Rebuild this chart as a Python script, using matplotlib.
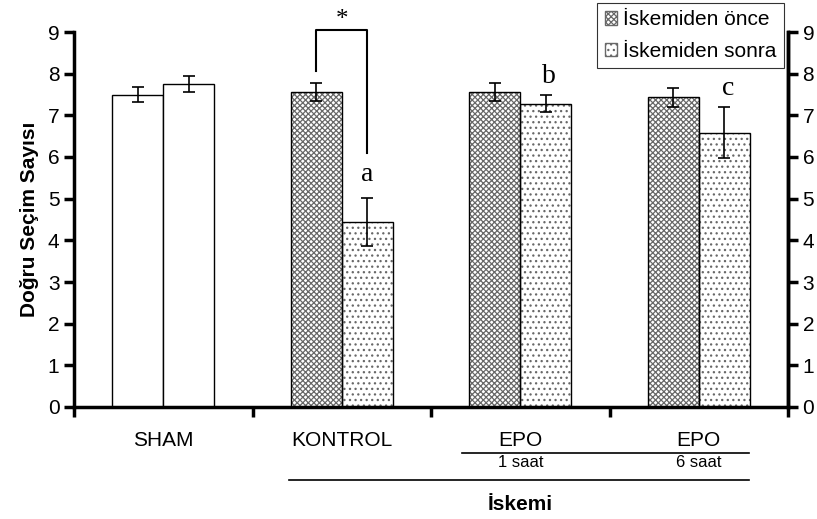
import numpy as np
import matplotlib
matplotlib.use('Agg')
import matplotlib.pyplot as plt
from matplotlib.patches import Patch

# data
groups = ['SHAM', 'KONTROL', 'EPO', 'EPO']
sublabels = ['', '', '1 saat', '6 saat']
before = [7.50, 7.56, 7.56, 7.43]
before_err = [0.19, 0.22, 0.22, 0.22]
after = [7.75, 4.44, 7.28, 6.58]
after_err = [0.20, 0.58, 0.21, 0.61]
sig_letters = ['', 'a', 'b', 'c']
legend_labels = ['İskemiden önce', 'İskemiden sonra']

plt.rcParams['font.family'] = ['Liberation Sans', 'DejaVu Sans']
plt.rcParams['hatch.linewidth'] = 0.9

fig = plt.figure(figsize=(8.17, 5.19), dpi=100)
ax = fig.add_axes([74/817, 1-407/519, 714/817, 375/519])

x = np.arange(len(groups)) + 0.5
w = 0.286
hatch_before = 'xxxxxx'
hatch_after = '...'
hatch_col = '#686868'

for i in range(len(groups)):
    x1 = x[i] - w/2
    x2 = x[i] + w/2
    if i == 0:
        ax.bar(x1, before[i], w, color='white', edgecolor='black', linewidth=1)
        ax.bar(x2, after[i], w, color='white', edgecolor='black', linewidth=1)
    else:
        # hatch drawn in grey, outline on top in black
        ax.bar(x1, before[i], w, color='white', edgecolor=hatch_col, hatch=hatch_before, linewidth=0)
        ax.bar(x2, after[i], w, color='white', edgecolor=hatch_col, hatch=hatch_after, linewidth=0)
        ax.bar(x1, before[i], w, fill=False, edgecolor='black', linewidth=1)
        ax.bar(x2, after[i], w, fill=False, edgecolor='black', linewidth=1)
    ax.errorbar([x1, x2], [before[i], after[i]], yerr=[before_err[i], after_err[i]],
                fmt='none', ecolor='black', elinewidth=1.2, capsize=4, capthick=1.2)

# significance letters
for i, s in enumerate(sig_letters):
    if s:
        top = after[i] + after_err[i]
        ax.text(x[i] + w/2 + (0.0 if i == 1 else 0.02), top + 0.55 if i == 1 else top + 0.45, s,
                ha='center', va='center', fontsize=20, family='Liberation Serif')

# bracket with asterisk
bx1 = x[1] - w/2
bx2 = x[1] + w/2
ax.plot([bx1, bx1, bx2, bx2], [8.06, 9.06, 9.06, 6.1], color='black', lw=1.5, clip_on=False)
ax.text(x[1], 9.3, '*', ha='center', va='center', fontsize=18, family='Liberation Serif')

ax.set_xlim(0, 4)
ax.set_ylim(0, 9)
ax.set_yticks(range(10))
ax.set_xticks(range(5))
ax.set_xticklabels([])
ax.spines['top'].set_visible(False)
for s in ['left', 'bottom', 'right']:
    ax.spines[s].set_linewidth(2.5)
ax.tick_params(axis='both', width=2.5, length=7, labelsize=15, direction='out')

ax2 = ax.twinx()
ax2.set_ylim(0, 9)
ax2.set_yticks(range(10))
ax2.spines['top'].set_visible(False)
ax2.spines['right'].set_linewidth(2.5)
ax2.tick_params(axis='y', width=2.5, length=7, labelsize=15, direction='out')

ax.set_ylabel('Doğru Seçim Sayısı', fontsize=15, fontweight='bold', labelpad=6)

# category labels under the axis
trans = ax.get_xaxis_transform()
for i, g in enumerate(groups):
    ax.text(x[i], -0.088, g, transform=trans, ha='center', va='center', fontsize=15)
    if sublabels[i]:
        ax.text(x[i], -0.149, sublabels[i], transform=trans, ha='center', va='center', fontsize=12)
ax.plot([(462-74)/178.5, (749-74)/178.5], [-0.123, -0.123], transform=trans,
        color='black', lw=1.2, clip_on=False)
ax.plot([(289-74)/178.5, (749-74)/178.5], [-0.195, -0.195], transform=trans,
        color='black', lw=1.2, clip_on=False)
ax.text(x[2], -0.261, 'İskemi', transform=trans, ha='center', va='center',
        fontsize=15, fontweight='bold')

handles = [Patch(facecolor='white', edgecolor=hatch_col, hatch=hatch_before),
           Patch(facecolor='white', edgecolor=hatch_col, hatch=hatch_after)]
leg = ax.legend(handles, legend_labels, loc='upper right', bbox_to_anchor=(784/817, 1-3/519),
                bbox_transform=fig.transFigure, fontsize=15, frameon=True, fancybox=False,
                edgecolor='black', handlelength=0.6, handleheight=0.6, handletextpad=0.3,
                borderpad=0.35, labelspacing=0.6, borderaxespad=0)
leg.get_frame().set_linewidth(0.8)
leg.set_zorder(5)

fig.savefig('out.png', dpi=100)
